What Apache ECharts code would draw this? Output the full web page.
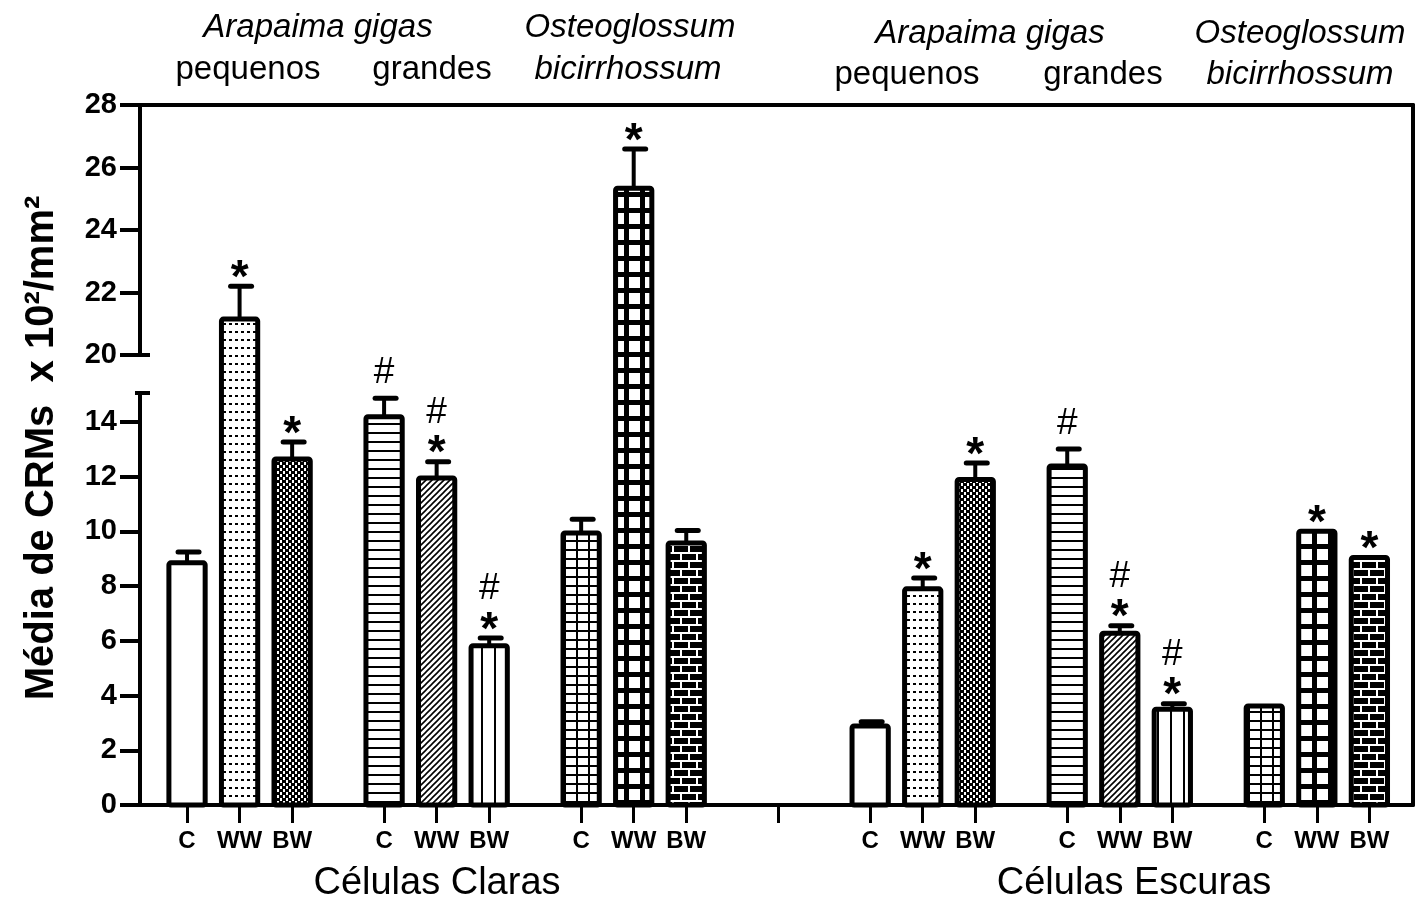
<!DOCTYPE html>
<html>
<head>
<meta charset="utf-8">
<script src="https://cdn.jsdelivr.net/npm/echarts@6/dist/echarts.min.js"></script>
<style>
  html, body { margin: 0; background: #fff; }
  #chart { width: 1418px; height: 901px; }
</style>
</head>
<body>
<div id="chart"></div>
<script>
// ---- data ----
const treatments = ['C', 'WW', 'BW'];
const cellTypes = ['Células Claras', 'Células Escuras'];
// order: A. gigas pequenos C/WW/BW, A. gigas grandes C/WW/BW, O. bicirrhossum C/WW/BW
const clarasMean = [8.85, 21.15, 12.65, 14.19, 11.95, 5.82, 9.94, 25.34, 9.58];
const clarasSem  = [0.40, 1.05, 0.62, 0.68, 0.60, 0.28, 0.50, 1.25, 0.45];
const clarasSig  = ['', '*', '*', '#', '#*', '#*', '', '*', ''];
const escurasMean = [2.89, 7.90, 11.90, 12.39, 6.28, 3.50, 3.62, 10.01, 9.05];
const escurasSem  = [0.15, 0.40, 0.60, 0.62, 0.27, 0.20, 0, 0, 0];
const escurasSig  = ['', '*', '*', '#', '#*', '#*', '', '*', '*'];
const lowerTicks = [0, 2, 4, 6, 8, 10, 12, 14];
const upperTicks = [20, 22, 24, 26, 28];

// ---- broken axis layout ----
const AXIS_Y = 805, TOP_Y = 105, LOW_TOP = 393, UP_BOTTOM = 355, LEFT = 140, RIGHT = 1413;
const LOW_PX = 27.36;                       // px per unit, lower segment
const LOW_MAX = (AXIS_Y - LOW_TOP) / LOW_PX; // ~15.06
const UP_MIN = upperTicks[0], UP_MAX = upperTicks[upperTicks.length - 1];
const UP_PX = (UP_BOTTOM - TOP_Y) / (UP_MAX - UP_MIN);
const FULL = AXIS_Y - TOP_Y;

// value -> position on the hidden linear axis
function toAxis(v) {
    if (v <= LOW_MAX) return v * LOW_PX;
    if (v < UP_MIN) return (AXIS_Y - LOW_TOP) + (v - LOW_MAX) / (UP_MIN - LOW_MAX) * (LOW_TOP - UP_BOTTOM);
    return (AXIS_Y - UP_BOTTOM) + (v - UP_MIN) * UP_PX;
}

// x slot of a bar: group, species, treatment
function xOf(g, s, t) { return g * 13 + s * 3.75 + t; }

// ---- fill patterns ----
function tile(w, h, draw, bg) {
    const c = document.createElement('canvas');
    c.width = w; c.height = h;
    const ctx = c.getContext('2d');
    ctx.fillStyle = bg || '#fff';
    ctx.fillRect(0, 0, w, h);
    ctx.fillStyle = '#000';
    ctx.strokeStyle = '#000';
    draw(ctx);
    return { image: c, repeat: 'repeat' };
}
const fills = [
    '#fff',
    tile(6, 8, g => g.fillRect(1, 3, 3, 2)),
    tile(6, 6, g => { g.fillRect(0, 0, 4, 3); g.fillRect(3, 3, 3, 3); g.fillRect(0, 3, 1, 3); }),
    tile(1, 9, g => g.fillRect(0, 0, 1, 2)),
    tile(6, 6, g => {
        g.lineWidth = 1.6;
        g.beginPath();
        g.moveTo(0, 6); g.lineTo(6, 0);
        g.moveTo(-1, 1); g.lineTo(1, -1);
        g.moveTo(5, 7); g.lineTo(7, 5);
        g.stroke();
    }),
    tile(13, 1, g => g.fillRect(0, 0, 2, 1)),
    tile(12, 9, g => { g.fillRect(0, 0, 12, 2); g.fillRect(0, 0, 2, 9); }),
    tile(16, 16, g => { g.fillRect(0, 0, 16, 5); g.fillRect(0, 0, 5, 16); }),
    tile(16, 16, g => {
        g.fillStyle = '#fff';
        g.fillRect(0, 0, 16, 2); g.fillRect(0, 8, 16, 2);
        g.fillRect(0, 2, 2, 6); g.fillRect(8, 10, 2, 6);
    }, '#000')
];

// ---- build rows ----
const rows = [];
const tickPos = [];
const labelAt = {};
[[clarasMean, clarasSem, clarasSig], [escurasMean, escurasSem, escurasSig]].forEach((grp, g) => {
    grp[0].forEach((m, i) => {
        const s = Math.floor(i / 3), t = i % 3;
        const x = xOf(g, s, t);
        rows.push([x, m, grp[1][i], i, grp[2][i]]);
        tickPos.push(x);
        labelAt[Math.round(x * 100)] = treatments[t];
    });
});
const barPos = tickPos.slice();
tickPos.push((xOf(0, 2, 2) + xOf(1, 0, 0)) / 2);

const FONT = '"Liberation Sans", Arial, Helvetica, sans-serif';
const BAR_W = 0.69;

const chart = echarts.init(document.getElementById('chart'));

function renderBar(params, api) {
    const x = api.value(0), v = api.value(1), k = api.value(3);
    const top = api.coord([x, toAxis(v)]);
    const base = api.coord([x, 0]);
    const w = api.size([BAR_W, 0])[0];
    return {
        type: 'rect',
        shape: { x: top[0] - w / 2, y: top[1], width: w, height: base[1] - top[1], r: 2 },
        style: { fill: fills[k], stroke: '#000', lineWidth: 5 }
    };
}

function renderErr(params, api) {
    const x = api.value(0), v = api.value(1), e = api.value(2);
    const sig = rows[params.dataIndex][4];
    const p0 = api.coord([x, toAxis(v)]);
    const p1 = api.coord([x, toAxis(v + e)]);
    const cx = p0[0];
    const children = [];
    if (e > 0) {
        children.push({ type: 'line', shape: { x1: cx, y1: p0[1], x2: cx, y2: p1[1] },
            style: { stroke: '#000', lineWidth: 4 } });
        children.push({ type: 'line', shape: { x1: cx - 9, y1: p1[1], x2: cx + 12, y2: p1[1] },
            style: { stroke: '#000', lineWidth: 5, lineCap: 'round' } });
    }
    let y = p1[1];
    if (sig.indexOf('*') >= 0) {
        children.push({ type: 'text', x: cx, y: y - 7,
            style: { text: '*', font: 'bold 46px ' + FONT, fill: '#000',
                     align: 'center', verticalAlign: 'middle', textAlign: 'center', textVerticalAlign: 'middle' } });
        y -= 32;
    } else {
        y -= 8;
    }
    if (sig.indexOf('#') >= 0) {
        children.push({ type: 'text', x: cx, y: y - 17,
            style: { text: '#', font: '37px ' + FONT, fill: '#000',
                     align: 'center', verticalAlign: 'middle', textAlign: 'center', textVerticalAlign: 'middle' } });
    }
    return { type: 'group', children: children };
}

function txt(text, x, y, font, rot) {
    return { type: 'text', x: x, y: y, rotation: rot || 0, z: 10,
        style: { text: text, font: font, fill: '#000',
                 align: 'center', verticalAlign: 'middle', textAlign: 'center', textVerticalAlign: 'middle' } };
}

const topFont = '33px ' + FONT, topItal = 'italic 33px ' + FONT;

const yLabelStyle = { fontFamily: FONT, fontWeight: 'bold', fontSize: 29, color: '#000', margin: 23 };

const frameLine = { show: true, onZero: false, lineStyle: { color: '#000', width: 4 } };

const option = {
    backgroundColor: '#fff',
    animation: false,
    grid: [
        { left: LEFT, top: TOP_Y, width: RIGHT - LEFT, height: FULL },
        { left: LEFT, top: TOP_Y, width: 20, height: UP_BOTTOM - TOP_Y },
        { left: LEFT, top: LOW_TOP, width: 20, height: AXIS_Y - LOW_TOP }
    ],
    xAxis: [
        {
            gridIndex: 0, type: 'value', min: -0.895, max: 23.33,
            splitLine: { show: false },
            axisLine: frameLine,
            axisTick: { show: true, customValues: tickPos, length: 18, lineStyle: { color: '#000', width: 3 } },
            axisLabel: {
                customValues: barPos, margin: 24,
                fontFamily: FONT, fontWeight: 'bold', fontSize: 24, color: '#000',
                formatter: v => labelAt[Math.round(v * 100)] || ''
            }
        },
        {
            gridIndex: 0, type: 'value', position: 'top', min: -0.895, max: 23.33,
            splitLine: { show: false }, axisTick: { show: false }, axisLabel: { show: false },
            axisLine: frameLine
        },
        { gridIndex: 1, type: 'value', show: false, min: 0, max: 1 },
        { gridIndex: 2, type: 'value', show: false, min: 0, max: 1 }
    ],
    yAxis: [
        { gridIndex: 0, type: 'value', min: 0, max: FULL, show: false },
        {
            gridIndex: 0, type: 'value', position: 'right', min: 0, max: FULL,
            splitLine: { show: false }, axisTick: { show: false }, axisLabel: { show: false },
            axisLine: frameLine
        },
        {
            gridIndex: 1, type: 'value', min: UP_MIN, max: UP_MAX, interval: 2,
            splitLine: { show: false },
            axisLine: frameLine,
            axisTick: { show: true, length: 20, lineStyle: { color: '#000', width: 4 } },
            axisLabel: yLabelStyle
        },
        {
            gridIndex: 2, type: 'value', min: 0, max: LOW_MAX,
            splitLine: { show: false },
            axisLine: frameLine,
            axisTick: { show: true, length: 20, customValues: lowerTicks, lineStyle: { color: '#000', width: 4 } },
            axisLabel: Object.assign({ customValues: lowerTicks }, yLabelStyle)
        }
    ],
    series: [
        {
            type: 'custom', name: 'bars', xAxisIndex: 0, yAxisIndex: 0, clip: false,
            encode: { x: 0, y: 1 }, renderItem: renderBar, data: rows.map(r => r.slice(0, 4)), z: 3
        },
        {
            type: 'custom', name: 'sem', xAxisIndex: 0, yAxisIndex: 0, clip: false,
            encode: { x: 0, y: 1 }, renderItem: renderErr, data: rows.map(r => r.slice(0, 4)), z: 4
        }
    ],
    graphic: [
        // small caps at the axis break
        { type: 'line', shape: { x1: LEFT, y1: UP_BOTTOM, x2: LEFT + 10, y2: UP_BOTTOM }, style: { stroke: '#000', lineWidth: 4 } },
        { type: 'line', shape: { x1: LEFT - 5, y1: LOW_TOP, x2: LEFT + 10, y2: LOW_TOP }, style: { stroke: '#000', lineWidth: 4 } },

        txt('Média de CRMs  x 10²/mm²', 42, 448, 'bold 40px ' + FONT, Math.PI / 2),

        txt('Arapaima gigas', 318, 28, topItal),
        txt('pequenos', 248, 70, topFont),
        txt('grandes', 432, 70, topFont),
        txt('Osteoglossum', 630, 28, topItal),
        txt('bicirrhossum', 628, 70, topItal),

        txt('Arapaima gigas', 990, 34, topItal),
        txt('pequenos', 907, 75, topFont),
        txt('grandes', 1103, 75, topFont),
        txt('Osteoglossum', 1300, 34, topItal),
        txt('bicirrhossum', 1300, 75, topItal),

        txt(cellTypes[0], 437, 884, '38px ' + FONT),
        txt(cellTypes[1], 1134, 884, '38px ' + FONT)
    ]
};

chart.setOption(option);
window.addEventListener('resize', chart.resize);
</script>
</body>
</html>
